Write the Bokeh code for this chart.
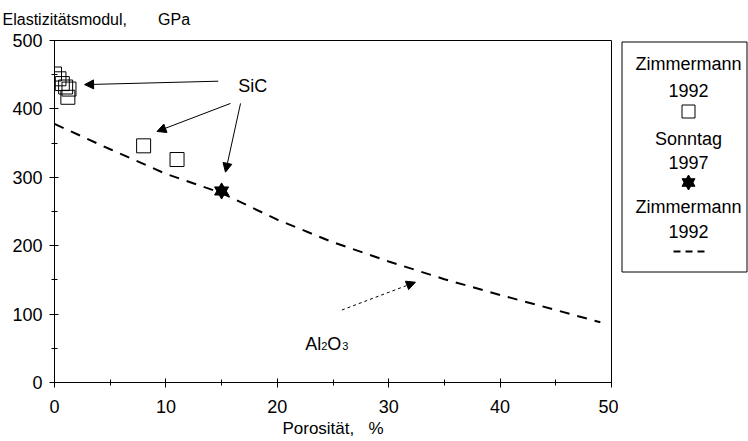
from bokeh.plotting import figure
from bokeh.layouts import row
from bokeh.models import Range1d, SingleIntervalTicker, Arrow, NormalHead, Label
from bokeh.embed import file_html
from bokeh.resources import INLINE

# --- data -------------------------------------------------------------
# SiC, Zimmermann 1992 (porosity %, Young's modulus GPa)
sic_zimmermann_porosity = [0.0, 0.4, 0.7, 1.0, 1.3, 1.2, 8.0, 11.0]
sic_zimmermann_modulus = [451, 444, 437, 432, 429, 417, 346, 326]

# SiC, Sonntag 1997
sic_sonntag_porosity = [15.0]
sic_sonntag_modulus = [280]

# Al2O3 trend, Zimmermann 1992
al2o3_porosity = [0, 5, 10, 15, 20, 25, 30, 35, 40, 45, 49]
al2o3_modulus = [378, 341, 305, 277, 238, 205, 177, 151, 128, 106, 88]

legend_lines = ["Zimmermann", "1992", "Sonntag", "1997", "Zimmermann", "1992"]

FONT = "Liberation Sans"
BORDER_TOP, BORDER_BOTTOM = 40, 59

# --- main plot ----------------------------------------------------------
p = figure(width=618, height=441, x_range=Range1d(0, 50), y_range=Range1d(0, 500),
           output_backend="svg", toolbar_location=None,
           min_border_left=54, min_border_right=7,
           min_border_top=BORDER_TOP, min_border_bottom=BORDER_BOTTOM)
p.outline_line_color = "black"
p.outline_line_width = 1
p.xgrid.visible = False
p.ygrid.visible = False
p.background_fill_color = "white"
p.border_fill_color = "white"

# y-axis caption as a left-aligned title above the frame
p.title.text = "Elastizitätsmodul,\u00a0\u00a0\u00a0\u00a0\u00a0\u00a0\u00a0GPa"
p.title.align = "left"
p.title.vertical_align = "top"
p.title.offset = -52
p.title.text_font = FONT
p.title.text_font_size = "16px"
p.title.text_font_style = "normal"
p.title.text_color = "black"
p.title.standoff = 21

p.xaxis.ticker = SingleIntervalTicker(interval=10, num_minor_ticks=2)
p.yaxis.ticker = SingleIntervalTicker(interval=100, num_minor_ticks=2)
for ax in (p.xaxis[0], p.yaxis[0]):
    ax.axis_line_color = "black"
    ax.major_tick_line_color = "black"
    ax.minor_tick_line_color = "black"
    ax.major_tick_in = 4
    ax.major_tick_out = 5
    ax.minor_tick_in = 3
    ax.minor_tick_out = 3
    ax.major_label_text_font = FONT
    ax.major_label_text_font_size = "18px"
    ax.major_label_text_color = "black"
p.xaxis.major_label_standoff = 12
p.yaxis.major_label_standoff = 7
p.xaxis.axis_label = "Porosität,\u00a0\u00a0\u00a0%"
p.xaxis.axis_label_text_font = FONT
p.xaxis.axis_label_text_font_size = "17px"
p.xaxis.axis_label_text_font_style = "normal"
p.xaxis.axis_label_text_color = "black"
p.xaxis.axis_label_standoff = 3

# Al2O3 trend line
p.line(al2o3_porosity, al2o3_modulus, line_color="black", line_width=2, line_dash="10 8")

# SiC squares
p.scatter(sic_zimmermann_porosity, sic_zimmermann_modulus, marker="square", size=14,
          fill_alpha=0, line_color="black", line_width=1)

# SiC six-pointed star
p.scatter(sic_sonntag_porosity, sic_sonntag_modulus, marker="triangle", size=14,
          fill_color="black", line_color="black")
p.scatter(sic_sonntag_porosity, sic_sonntag_modulus, marker="inverted_triangle", size=14,
          fill_color="black", line_color="black")

# annotations
p.add_layout(Label(x=16.5, y=433, text="SiC", text_font=FONT, text_font_size="18px",
                   text_color="black", text_baseline="middle", text_align="left"))

def head():
    return NormalHead(size=9, fill_color="black", line_color="black")

for xs, ys, xe, ye in [(14.7, 440.5, 2.7, 435.5),
                       (15.8, 408.0, 9.2, 367.0),
                       (16.7, 408.0, 15.35, 307.5)]:
    p.add_layout(Arrow(x_start=xs, y_start=ys, x_end=xe, y_end=ye, end=head(),
                       line_color="black", line_width=1))

p.add_layout(Arrow(x_start=25.8, y_start=106, x_end=32.4, y_end=146.6, end=head(),
                   line_color="black", line_width=1, line_dash="3 3"))

# Al2O3 label with subscripts
for txt, dx, dy, size in [("Al", 0, 0, "18px"), ("2", 16, -2, "11px"),
                          ("O", 22, 0, "18px"), ("3", 37, -2, "11px")]:
    p.add_layout(Label(x=22.5, y=57, x_offset=dx, y_offset=dy, text=txt, text_font=FONT,
                       text_font_size=size, text_color="black",
                       text_baseline="alphabetic", text_align="left"))

# --- legend panel ---------------------------------------------------------
# same vertical borders as the main plot; coordinates are pixels from the frame top
leg = figure(width=130, height=441, x_range=Range1d(0, 130), y_range=Range1d(342, 0),
             x_axis_type=None, y_axis_type=None, output_backend="svg", toolbar_location=None,
             min_border_left=0, min_border_right=0,
             min_border_top=BORDER_TOP, min_border_bottom=BORDER_BOTTOM)
leg.outline_line_color = None
leg.xgrid.visible = False
leg.ygrid.visible = False
leg.quad(left=[3.5], right=[128.5], top=[1.5], bottom=[231.5], fill_color=None,
         line_color="black", line_width=1)

cx = 70
text_rows = [23, 50, 98, 122, 166, 191]
leg.text(x=[cx] * len(legend_lines), y=text_rows, text=legend_lines,
         text_font={"value": FONT}, text_font_size="18px", text_color="black",
         text_align="center", text_baseline="middle")
leg.scatter([cx], [71], marker="square", size=13, fill_alpha=0, line_color="black")
leg.scatter([cx], [142], marker="triangle", size=13, fill_color="black", line_color="black")
leg.scatter([cx], [142], marker="inverted_triangle", size=13, fill_color="black", line_color="black")
leg.line([cx - 15, cx + 16], [211, 211], line_color="black", line_width=2, line_dash="7 5")

layout = row(p, leg, spacing=0)
open("out.html", "w").write(file_html(layout, INLINE))
